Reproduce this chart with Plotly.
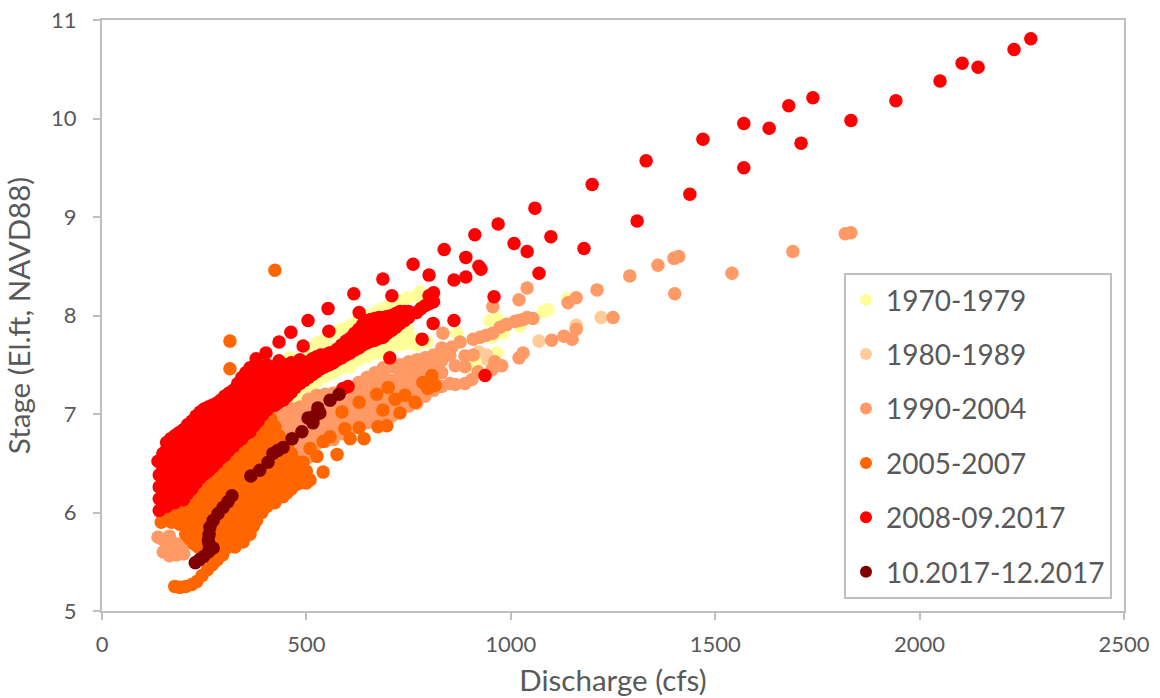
import plotly.graph_objects as go

names = ["1970-1979", "1980-1989", "1990-2004", "2005-2007", "2008-09.2017", "10.2017-12.2017"]
colors = ["#FFFF99", "#FFCC99", "#FF9966", "#FF6600", "#FF0000", "#800000"]

# Each entry: discharge, then the stage readings at about that discharge.
yellow_cols = [
    (460, [7.57, 7.05, 7.14]), (484, [7.2, 7.3, 7.42]), (505, [7.27, 7.38, 7.5, 7.62]), (526, [7.33, 7.44, 7.55, 7.72]), (546, [7.38, 7.5, 7.62, 7.76]),
    (566, [7.42, 7.54, 7.66, 7.82]), (586, [7.46, 7.58, 7.7, 7.86]), (607, [7.48, 7.6, 7.72, 7.9]), (628, [7.55, 7.66, 7.78, 7.97]),
    (648, [7.58, 7.7, 7.82, 8.0]), (672, [7.62, 7.74, 7.86, 8.04]), (688, [7.62, 7.75, 7.88, 8.07]), (704, [7.68, 7.8, 7.92, 8.11]), (729, [7.7, 7.82, 8.15]),
    (748, [7.72, 7.85, 8.18]), (770, [7.7, 7.75, 8.2]), (778, [8.24]), (795, [7.73]), (819, [7.5]), (868, [7.82]), (908, [7.48]),
    (917, [7.53]), (949, [7.95]), (954, [7.78]), (966, [7.97, 7.62]), (981, [7.82]), (1022, [7.89]), (1079, [8.04]), (1091, [8.06]),
    (1138, [8.17]),
]
peach_cols = [
    (484, [6.43]), (922, [7.63]), (941, [7.6]), (944, [7.55]), (1069, [7.74]), (1160, [7.9]), (1221, [7.98]),
]
salmon_cols = [
    (137, [5.75]), (150, [5.6, 5.72]), (165, [5.56, 5.66, 5.76]), (183, [5.57, 5.68]), (200, [5.58, 5.68]), (276, [5.5]), (290, [6.42]),
    (430, [6.85, 6.95, 7.0]), (445, [6.7, 6.8, 6.9, 7.0]), (465, [6.6, 6.72, 6.84, 6.96, 7.05]),
    (484, [6.5, 6.61, 6.72, 6.84, 6.96, 7.07]), (505, [6.56, 6.67, 6.78, 6.9, 7.02, 7.15]), (525, [6.7, 6.82, 6.94, 7.06, 7.19]),
    (546, [6.72, 6.78, 6.9, 7.02, 7.14, 7.2]), (566, [6.74, 6.86, 6.98, 7.1, 7.21]), (586, [6.8, 6.92, 7.04, 7.16, 7.24]),
    (607, [6.84, 6.96, 7.08, 7.2, 7.26]), (628, [6.88, 7.0, 7.12, 7.24, 7.32]), (648, [6.91, 7.03, 7.15, 7.27, 7.37]),
    (668, [6.91, 6.97, 7.09, 7.21, 7.33, 7.42]), (688, [6.91, 7.03, 7.15, 7.27, 7.39, 7.47]), (709, [6.98, 7.1, 7.22, 7.34, 7.48]),
    (729, [7.04, 7.16, 7.28, 7.4, 7.5]), (750, [7.08, 7.2, 7.32, 7.44, 7.53]), (770, [7.11, 7.24, 7.36, 7.46, 7.55]),
    (790, [7.18, 7.3, 7.42, 7.54, 7.57]), (811, [7.24, 7.36, 7.48, 7.6]), (831, [7.28, 7.42, 7.54, 7.67]), (834, [7.82]),
    (851, [7.31, 7.6]), (856, [7.68]), (864, [7.49, 7.3]), (876, [7.73]), (888, [7.31, 7.48, 7.59]), (905, [7.35]), (908, [7.6, 7.76]),
    (920, [7.43]), (925, [7.78]), (940, [7.8]), (954, [7.45]), (956, [7.82, 8.09]), (961, [7.53]), (974, [7.88]), (978, [7.49]),
    (990, [7.91]), (1010, [7.94]), (1020, [7.57, 7.95, 8.16]), (1030, [7.62, 7.96]), (1040, [7.98, 8.28]), (1054, [7.97]),
    (1100, [7.75]), (1130, [7.79]), (1140, [8.13]), (1150, [7.76]), (1160, [7.86, 8.18]), (1211, [8.26]), (1250, [7.98]), (1291, [8.4]),
    (1360, [8.51]), (1399, [8.58]), (1401, [8.22]), (1411, [8.6]), (1541, [8.43]), (1690, [8.65]), (1818, [8.83]), (1832, [8.84]),
]
orange_cols = [
    (145, [5.9, 6.0]), (157, [5.94, 6.05]), (170, [5.9, 6.0, 6.12]), (178, [5.25]), (190, [5.24, 5.88, 5.98, 6.1]), (205, [5.25, 5.78, 5.88, 5.98, 6.1, 6.2]),
    (215, [5.73, 5.83, 5.94, 6.05, 6.16]), (220, [5.27]), (225, [5.68, 5.78, 5.9, 6.0, 6.12, 6.24]), (232, [5.3]), (235, [5.65, 5.76, 5.88, 6.0, 6.12, 6.24]),
    (245, [5.36, 5.62, 5.72, 5.84, 5.95, 6.06, 6.18, 6.3]),
    (258, [5.42]), (255, [5.66, 5.78, 5.9, 6.01, 6.12, 6.24, 6.36]), (265, [5.62, 5.72, 5.84, 5.96, 6.08, 6.2, 6.32, 6.4]), (270, [5.47]), (282, [5.52]),
    (275, [5.66, 5.78, 5.9, 6.02, 6.14, 6.26, 6.38, 6.46]), (285, [5.64, 5.76, 5.88, 6.0, 6.12, 6.24, 6.36, 6.5]), (295, [5.57, 5.7, 5.82, 5.94, 6.06, 6.18, 6.3, 6.42, 6.54]),
    (305, [5.64, 5.76, 5.88, 6.0, 6.12, 6.24, 6.36, 6.48, 6.58]), (315, [5.7, 5.82, 5.94, 6.06, 6.18, 6.3, 6.42, 6.54, 6.64]),
    (325, [5.65, 5.77, 5.89, 6.01, 6.13, 6.25, 6.37, 6.49, 6.6, 6.68]), (335, [5.71, 5.83, 5.95, 6.07, 6.19, 6.31, 6.43, 6.55, 6.66, 6.72]),
    (345, [5.7, 5.82, 5.94, 6.06, 6.18, 6.3, 6.42, 6.54, 6.66, 6.75]), (353, [5.76, 5.88, 6.0, 6.12, 6.24, 6.36, 6.48, 6.6, 6.72, 6.8]),
    (362, [5.78, 5.9, 6.02, 6.14, 6.26, 6.38, 6.5, 6.62, 6.74, 6.82]), (370, [5.86, 5.98, 6.1, 6.22, 6.34, 6.46, 6.58, 6.7, 6.84]),
    (378, [5.92, 6.04, 6.16, 6.28, 6.4, 6.52, 6.64, 6.76, 6.9]), (391, [6.0, 6.12, 6.24, 6.36, 6.48, 6.6, 6.72, 6.84, 6.93]),
    (403, [6.06, 6.18, 6.3, 6.42, 6.54, 6.66, 6.78, 6.95]), (413, [6.12, 6.24, 6.36, 6.48, 6.6, 6.72, 6.84, 6.95]),
    (423, [6.1, 6.22, 6.34, 6.46, 6.58, 6.72, 6.87]), (433, [6.16, 6.28, 6.4, 6.52, 6.64, 6.78]),
    (443, [6.16, 6.28, 6.4, 6.52, 6.7]), (453, [6.2, 6.32, 6.44, 6.56, 6.66]), (463, [6.24, 6.36, 6.48, 6.6]), (473, [6.28, 6.4, 6.52]), (484, [6.3, 6.4, 6.5]),
    (500, [6.3, 6.42]), (509, [6.33, 6.65]), (541, [6.41, 6.72]), (492, [6.51]), (526, [6.57]), (575, [6.59]), (558, [6.77]), (607, [6.75]), (641, [6.75]),
    (594, [6.85]), (629, [6.86, 7.12]), (675, [6.87]), (697, [6.88]), (587, [7.02]), (672, [7.2]), (700, [7.27]), (687, [7.04]), (729, [7.01]),
    (717, [7.15]), (741, [7.19]), (766, [7.12]), (785, [7.32]), (807, [7.39]), (797, [7.26]), (815, [7.29]),
    (423, [8.46]), (313, [7.74, 7.46]), (411, [7.47]),
]
red_cols = [
    (137, [6.52]), (140, [6.02, 6.14, 6.26, 6.38]), (149, [6.08, 6.2, 6.32, 6.44, 6.6]), (158, [6.06, 6.18, 6.3, 6.42, 6.54, 6.64, 6.71]),
    (168, [6.12, 6.24, 6.36, 6.48, 6.6, 6.7, 6.75]), (178, [6.1, 6.22, 6.34, 6.46, 6.58, 6.7, 6.78]), (188, [6.16, 6.28, 6.4, 6.52, 6.64, 6.76, 6.81]),
    (199, [6.13, 6.25, 6.37, 6.49, 6.61, 6.73, 6.84]), (209, [6.19, 6.31, 6.43, 6.55, 6.67, 6.79, 6.89]),
    (220, [6.24, 6.36, 6.48, 6.6, 6.72, 6.84, 6.93]), (230, [6.3, 6.42, 6.54, 6.66, 6.78, 6.9, 6.98]), (240, [6.35, 6.47, 6.59, 6.71, 6.83, 6.95, 7.02]),
    (250, [6.39, 6.51, 6.63, 6.75, 6.87, 6.99, 7.05]), (260, [6.42, 6.54, 6.66, 6.78, 6.9, 7.0, 7.07]), (270, [6.46, 6.58, 6.7, 6.82, 6.94, 7.06, 7.09]),
    (280, [6.5, 6.62, 6.74, 6.86, 6.98, 7.11]), (290, [6.55, 6.67, 6.79, 6.91, 7.03, 7.14]),
    (300, [6.58, 6.7, 6.82, 6.94, 7.06, 7.18]), (310, [6.63, 6.75, 6.87, 6.99, 7.11, 7.21]), (321, [6.67, 6.79, 6.91, 7.03, 7.15, 7.24]),
    (332, [6.72, 6.84, 6.96, 7.08, 7.2, 7.31]), (342, [6.75, 6.87, 6.99, 7.11, 7.23, 7.37]), (352, [6.8, 6.92, 7.04, 7.16, 7.28, 7.42]),
    (362, [6.82, 6.94, 7.06, 7.18, 7.3, 7.47]), (372, [6.88, 7.0, 7.12, 7.24, 7.36, 7.46]), (382, [6.93, 7.05, 7.17, 7.29, 7.42, 7.5]),
    (392, [6.99, 7.11, 7.23, 7.35, 7.46]), (403, [7.04, 7.16, 7.28, 7.42, 7.5]), (413, [7.08, 7.2, 7.32, 7.44]), (423, [7.09, 7.21, 7.33, 7.42, 7.48]),
    (433, [7.12, 7.24, 7.36, 7.46]), (443, [7.14, 7.26, 7.38, 7.5]), (453, [7.18, 7.3, 7.42, 7.5]), (463, [7.22, 7.34, 7.45, 7.52]), (473, [7.27, 7.37, 7.48]),
    (484, [7.31, 7.39, 7.47, 7.55]), (495, [7.34, 7.42, 7.5]), (505, [7.37, 7.45, 7.53]), (515, [7.4, 7.48, 7.56]), (525, [7.43, 7.5, 7.58]), (535, [7.46, 7.54, 7.6]),
    (545, [7.48, 7.6]), (556, [7.5, 7.58, 7.62]), (566, [7.52, 7.63]), (576, [7.55, 7.66]),
    (586, [7.57, 7.7]), (597, [7.6, 7.74]), (607, [7.62, 7.7, 7.77]), (618, [7.65, 7.74, 7.82]), (628, [7.67, 7.76, 7.86]), (638, [7.7, 7.8, 7.91]), (648, [7.72, 7.83, 7.95]),
    (658, [7.74, 7.85, 7.96]), (668, [7.75, 7.86, 7.97]), (678, [7.77, 7.87, 7.98]), (688, [7.78, 7.88, 7.98]), (698, [7.82, 7.9, 7.99]), (709, [7.85, 7.92, 8.0]), (719, [7.88, 7.98, 8.02]), (729, [7.92, 8.04]),
    (740, [7.95, 8.04]), (750, [7.98, 8.04]), (770, [8.03]), (780, [8.07]), (790, [8.1]), (800, [8.12, 8.2]), (811, [8.14, 8.23]),
    (602, [7.28]), (590, [7.26]), (377, [7.56]), (401, [7.62]), (433, [7.73, 7.54]), (462, [7.83]), (492, [7.69]), (504, [7.95]),
    (553, [8.07]), (555, [7.84]), (616, [8.22]), (629, [8.03]), (687, [8.37]), (704, [7.57]), (709, [8.2]), (761, [8.52]),
    (783, [7.76]), (800, [8.41]), (810, [7.92]), (837, [8.67]), (861, [7.95, 8.36]), (890, [8.39, 8.59]), (912, [8.82]),
    (922, [8.5]), (927, [8.47]), (937, [7.39]), (959, [8.19]), (969, [8.93]), (1008, [8.73]), (1040, [8.65]), (1059, [9.09]),
    (1069, [8.43]), (1098, [8.8]), (1179, [8.68]), (1199, [9.33]), (1309, [8.96]), (1331, [9.57]), (1438, [9.23]), (1470, [9.79]),
    (1570, [9.5, 9.95]), (1632, [9.9]), (1680, [10.13]), (1710, [9.75]), (1739, [10.21]), (1832, [9.98]), (1942, [10.18]),
    (2050, [10.38]), (2104, [10.56]), (2143, [10.52]), (2231, [10.7]), (2272, [10.81]),
]
maroon_cols = [
    (228, [5.49]), (238, [5.52]), (248, [5.55]), (260, [5.6, 5.72]), (272, [5.64, 5.92]), (262, [5.68, 5.78]), (264, [5.85]), (284, [5.99]),
    (296, [6.05]), (308, [6.11]), (318, [6.17]), (364, [6.37]), (386, [6.43]), (406, [6.51]), (418, [6.6]), (430, [6.63]), (443, [6.66]),
    (465, [6.75]), (489, [6.82]), (504, [6.96]), (516, [6.91]), (520, [6.98]), (533, [7.01]), (528, [7.06]), (558, [7.14]), (580, [7.2]),
]

series_cols = [yellow_cols, peach_cols, salmon_cols, orange_cols, red_cols, maroon_cols]

x_ticks = [0, 500, 1000, 1500, 2000, 2500]
y_ticks = [5, 6, 7, 8, 9, 10, 11]

fig = go.Figure()
for name, color, cols in zip(names, colors, series_cols):
    xs = [x for x, ys in cols for _ in ys]
    ys_flat = [y for _, ys in cols for y in ys]
    fig.add_trace(go.Scatter(
        x=xs, y=ys_flat, mode="markers", name=name, legendgroup=name,
        marker=dict(size=13.5, color=color, line=dict(width=0)),
    ))

TXT = "#595959"
LINE = "#BFBFBF"
axis_common = dict(
    showgrid=False, zeroline=False, showline=True, mirror=True, linecolor=LINE, linewidth=2,
    ticks="outside", ticklen=7, tickcolor=LINE, tickwidth=2, tickfont=dict(size=22, color=TXT), automargin=False,
)
fig.update_layout(
    width=1160, height=698, margin=dict(l=102, r=36, t=20, b=87),
    paper_bgcolor="white", plot_bgcolor="white",
    font=dict(family="Lato, Carlito, sans-serif", color=TXT, size=22),
    legend=dict(
        x=(844 - 102) / 1022, y=(611 - 273) / 591, xanchor="left", yanchor="top", xref="paper", yref="paper",
        bgcolor="white", bordercolor=LINE, borderwidth=2, tracegroupgap=15, font=dict(size=28, color=TXT),
        itemsizing="constant", traceorder="grouped",
    ),
    xaxis=dict(range=[0, 2500], tickvals=x_ticks, ticklabelstandoff=6,
               title=dict(text="Discharge (cfs)", font=dict(size=29.5, color=TXT), standoff=14), **axis_common),
    yaxis=dict(range=[5, 11], tickvals=y_ticks, ticklabelstandoff=12,
               title=dict(text="Stage (El.ft, NAVD88)", font=dict(size=29.5, color=TXT), standoff=12), **axis_common),
)
fig.write_html("out.html", config={"displayModeBar": False}, post_script="document.body.style.margin='0';")
